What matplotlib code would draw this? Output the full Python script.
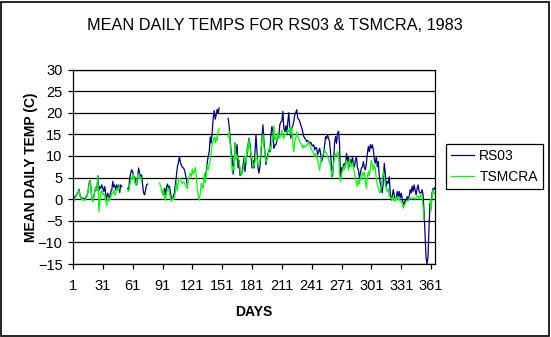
import numpy as np
import matplotlib
matplotlib.use("Agg")
import matplotlib.pyplot as plt
from matplotlib.patches import Rectangle

N = None

# mean daily temps, day 1..365 (None = no data)
rs03 = [
    1.0, 0.3, 0.5, 0.8, 1.2, 1.6, 2.3, 1.0, 0.4, 0.0,
    0.3, 0.0, 0.1, 0.4, 0.8, 1.6, 3.5, 4.3, 2.7, 0.0,
    -0.4, 0.8, 2.0, 2.7, 2.2, 5.4, 2.0, 2.9, 2.5, 3.3,
    2.6, 1.8, 2.9, 1.0, -0.1, 1.4, 0.3, 0.6, 1.8, 2.1,
    4.1, 2.8, 3.3, 2.1, 3.3, 2.5, 3.3, 1.5, 3.3, 2.9,
    N, N, N, N, N, 2.5, 2.2, 4.8, 6.0, 6.8,
    6.4, 4.8, 5.2, 3.7, 3.3, 5.2, 7.2, 6.0, 5.2, 5.6,
    3.3, 1.4, 1.0, 2.1, 3.3, 3.5, N, N, N, N,
    N, N, N, N, N, N, N, N, N, 2.0,
    1.5, 1.0, 2.5, 1.0, 2.8, 3.5, 2.5, 3.0, 1.5, 0.2,
    0.0, 0.8, 1.5, 3.5, 5.5, 7.5, 8.5, 9.9, 8.5, 7.8,
    7.4, 7.2, 6.8, 5.8, 4.5, 3.3, N, N, N, N,
    N, N, N, N, N, N, N, N, N, N,
    N, N, 4.5, 4.0, 6.5, 8.5, 10.0, 11.0, 14.4, 13.0,
    15.6, 18.9, 20.5, 18.5, 19.5, 20.8, 19.8, 21.1, N, N,
    N, N, N, N, N, N, 18.7, 17.0, 14.1, 11.0,
    9.5, 5.8, 8.7, 13.0, 10.5, 12.6, 7.2, 9.0, 5.5, 5.8,
    6.2, 7.9, 9.5, 6.4, 9.0, 10.6, 12.6, 14.1, 12.8, 10.0,
    7.2, 9.0, 7.2, 11.0, 14.9, 11.0, 7.2, 6.0, 7.6, 10.5,
    14.1, 17.2, 13.3, 11.0, 8.0, 9.5, 10.5, 11.4, 11.0, 14.9,
    16.8, 15.6, 11.8, 12.5, 12.6, 13.5, 14.2, 14.9, 17.2, 17.9,
    18.0, 20.3, 16.4, 15.6, 17.0, 14.9, 18.0, 20.0, 16.4, 14.1,
    16.5, 17.0, 18.0, 19.5, 20.0, 20.7, 18.7, 18.5, 18.0, 17.2,
    16.5, 15.6, 14.5, 14.1, 13.8, 13.3, 13.6, 13.3, 12.9, 13.2,
    12.6, 12.3, 12.6, 11.4, 12.0, 11.8, 10.3, 11.0, 11.8, 10.5,
    8.7, 9.5, 10.5, 12.6, 14.5, 14.0, 14.9, 14.0, 13.3, 10.5,
    7.2, 5.3, 8.7, 12.9, 14.5, 12.9, 15.3, 15.7, 12.9, 4.6,
    7.3, 6.5, 8.0, 8.3, 7.5, 10.6, 8.7, 9.9, 7.5, 9.1,
    8.3, 9.9, 8.0, 7.5, 9.0, 9.9, 7.2, 6.8, 4.9, 6.0,
    7.2, 7.5, 8.7, 7.2, 6.8, 8.3, 10.6, 12.2, 11.0, 12.6,
    11.8, 12.6, 11.4, 9.1, 8.3, 9.9, 7.5, 8.7, 5.2, 3.7,
    2.5, 1.5, 4.0, 8.3, 6.0, 2.9, 4.1, 3.7, 5.2, 1.4,
    -0.2, 0.6, 2.2, 1.0, -0.2, 0.2, 1.8, 0.6, 1.8, 0.3,
    1.4, 0.3, -0.9, -1.3, -0.2, -0.2, 0.6, 0.2, 0.6, 2.2,
    1.4, 3.0, 1.8, 3.3, 2.2, 1.0, 2.5, 3.3, 1.8, 1.4,
    1.4, 2.2, 1.0, -3.0, -8.0, -13.5, -15.0, -13.3, -6.3, -1.0,
    -2.0, 1.4, 2.5, 2.2, 2.7,
]

tsmcra = [
    -0.3, -0.5, 0.2, 0.6, 1.0, 1.4, 2.1, 0.8, 0.2, -0.2,
    0.1, -0.3, -0.2, 0.2, 0.6, 1.4, 3.3, 4.1, 2.5, -0.2,
    -0.6, 0.6, 1.8, 2.5, 2.0, 5.2, -2.9, -0.6, 1.4, 2.1,
    1.0, 1.3, 0.2, -0.4, -1.5, 0.6, -0.4, -0.2, 0.5, 1.4,
    1.4, 2.1, 1.0, 1.2, 2.5, 2.0, 3.0, 2.4, N, N,
    N, N, N, N, N, 2.1, 1.8, 3.3, 4.1, 5.2,
    4.5, 5.6, 4.0, 3.3, 3.7, 5.6, 6.0, 4.8, 5.2, 4.1,
    N, N, N, N, N, N, N, N, N, N,
    N, N, N, N, N, N, N, 3.7, 3.0, 2.0,
    1.2, 2.2, 0.5, -0.3, 1.5, 2.0, 2.6, 1.6, 0.0, -0.5,
    0.2, -0.1, 0.5, 1.8, 3.8, 2.0, 4.5, 5.0, 4.6, 4.0,
    3.6, 4.0, 3.8, 3.3, 2.8, 2.5, 4.5, 5.3, 6.0, 5.2,
    7.0, 5.8, 6.5, 7.3, 5.3, 2.5, 0.8, -0.2, 1.4, 3.7,
    3.0, 2.5, 6.0, 4.0, 5.5, 7.9, 6.8, 8.0, 9.0, 11.0,
    12.7, 13.5, 14.4, 13.0, 14.4, 13.5, 15.8, 16.4, N, N,
    N, N, N, N, N, N, 14.4, 15.7, 13.0, 10.0,
    6.5, 7.5, 6.8, 13.0, 9.0, 10.0, 9.5, 8.6, 7.0, 5.5,
    6.0, 6.7, 8.0, 10.0, 8.5, 12.2, 11.0, 13.8, 12.0, 10.5,
    9.5, 7.5, 8.0, 8.6, 10.5, 9.4, 8.0, 7.8, 9.0, 11.6,
    13.5, 15.0, 12.0, 10.5, 8.6, 9.0, 10.0, 11.0, 12.2, 11.5,
    13.0, 14.0, 17.0, 13.8, 14.5, 13.5, 15.3, 14.5, 14.1, 15.0,
    16.0, 14.5, 14.0, 15.0, 14.9, 15.5, 16.0, 15.6, 16.5, 15.0,
    16.5, 13.0, 11.0, 13.5, 14.0, 15.6, 14.5, 14.0, 13.3, 13.0,
    12.5, 11.8, 12.5, 12.0, 12.2, 12.5, 12.8, 13.3, 12.5, 12.0,
    11.5, 11.0, 10.5, 9.9, 10.6, 10.0, 9.1, 7.9, 6.7, 8.5,
    9.5, 10.3, 10.6, 11.5, 10.8, 10.6, 9.8, 9.1, 8.5, 7.6,
    5.0, 6.4, 8.2, 9.5, 10.5, 10.0, 11.0, 10.5, 6.0, 4.1,
    5.5, 6.8, 7.5, 6.8, 8.0, 9.0, 8.2, 6.7, 9.4, 8.0,
    7.5, 8.5, 7.5, 6.0, 5.0, 3.8, 3.0, 4.5, 3.5, 5.0,
    4.5, 6.2, 5.5, 6.2, 4.0, 2.5, 5.0, 6.5, 5.5, 7.0,
    9.0, 8.0, 6.7, 7.9, 7.0, 4.5, 3.5, 2.5, 1.8, 1.4,
    3.0, 5.2, 6.4, 5.0, 3.7, 2.2, 1.8, 2.5, 0.6, 0.6,
    0.2, -0.2, 0.6, -0.5, 0.3, -0.2, 0.6, -0.2, 0.2, -0.4,
    -0.5, -0.9, -2.1, -1.5, -1.0, -0.6, -0.3, -0.4, 0.0, 0.3,
    0.0, 0.2, 0.4, 0.3, 0.0, 0.3, 0.6, 0.8, 0.0, 0.5,
    1.0, 0.6, -1.7, -4.8, N, N, N, N, N, -0.2,
    -2.8, 0.6, 2.2, 1.4, 1.2,
]

day_ticks = list(range(1, 366, 30))
y_ticks = list(range(-15, 31, 5))

rs = np.array([np.nan if v is None else v for v in rs03], dtype=float)
ts = np.array([np.nan if v is None else v for v in tsmcra], dtype=float)
days = np.arange(1, len(rs) + 1)
days2 = np.arange(1, len(ts) + 1)

plt.rcParams['font.family'] = ['Liberation Sans', 'DejaVu Sans']

fig = plt.figure(figsize=(5.51, 3.37), dpi=100)
ax = fig.add_axes([73 / 551, 73 / 337, 362 / 551, 194.5 / 337])

ax.plot(days, rs, color='#000080', lw=0.9, label='RS03')
ax.plot(days2, ts, color='#00ff00', lw=0.9, label='TSMCRA')

ax.set_xlim(1, 365)
ax.set_ylim(-15, 30)
ax.set_xticks(day_ticks)
ax.set_yticks(y_ticks)
ax.yaxis.grid(True, color='black', lw=0.9)
ax.set_axisbelow(True)
for s in ax.spines.values():
    s.set_color('black')
    s.set_linewidth(0.9)
ax.tick_params(direction='out', length=3.5, width=0.9, colors='black', labelsize=10.5)
ax.tick_params(axis='x', pad=7)
ax.tick_params(axis='y', pad=4)

ax.set_xlabel('DAYS', fontsize=10, fontweight='bold', labelpad=9)
ax.set_ylabel('MEAN DAILY TEMP (C)', fontsize=10, fontweight='bold', labelpad=0)
fig.text(275 / 551, 1 - 26 / 337, 'MEAN DAILY TEMPS FOR RS03 & TSMCRA, 1983',
         ha='center', va='center', fontsize=11.7)

leg = ax.legend(loc='upper left', bbox_to_anchor=(446 / 551, 1 - 144 / 337),
                bbox_transform=fig.transFigure, fancybox=False, edgecolor='black',
                framealpha=1, fontsize=10, handlelength=1.7, handletextpad=0.35,
                borderpad=0.35, labelspacing=0.5, borderaxespad=0)
leg.get_frame().set_linewidth(0.9)

fig.patches.append(Rectangle((0.002, 0.003), 0.994, 0.992, transform=fig.transFigure,
                             fill=False, ec='black', lw=1.2))

fig.savefig('out.png', dpi=100)
